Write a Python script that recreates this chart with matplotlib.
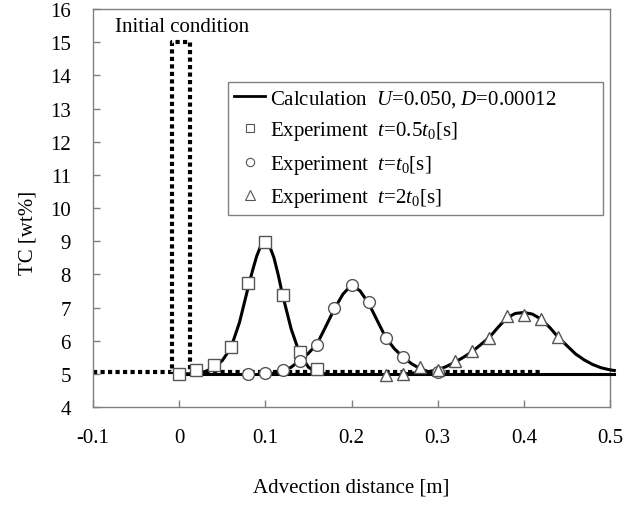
import matplotlib
matplotlib.use("Agg")
import matplotlib.pyplot as plt
from matplotlib.lines import Line2D

plt.rcParams['font.family'] = ['Liberation Serif', 'DejaVu Serif']
plt.rcParams['mathtext.fontset'] = 'custom'
plt.rcParams['mathtext.rm'] = 'Liberation Serif'
plt.rcParams['mathtext.it'] = 'Liberation Serif:italic'

# Initial condition (dotted outline)
init_x = [-0.1, -0.008, -0.008, 0.013, 0.013, 0.42]
init_y = [5.05, 5.05, 15.0, 15.0, 5.05, 5.05]

# Calculation curves
base_x = [0.0, 0.505]
base_y = [5.0, 5.0]
calc1_x = [0.0, 0.01, 0.02, 0.03, 0.04, 0.05, 0.06, 0.07, 0.08, 0.085, 0.09, 0.095,
           0.10, 0.105, 0.11, 0.115, 0.12, 0.13, 0.14, 0.15, 0.16, 0.17]
calc1_y = [5.0, 5.0, 5.02, 5.07, 5.18, 5.4, 5.78, 6.55, 7.6, 8.1, 8.55, 8.88,
           8.98, 8.85, 8.5, 7.98, 7.38, 6.35, 5.6, 5.2, 5.04, 5.0]
calc2_x = [0.10, 0.11, 0.12, 0.13, 0.14, 0.15, 0.16, 0.17, 0.18, 0.19, 0.20, 0.21,
           0.22, 0.23, 0.24, 0.25, 0.26, 0.27, 0.28, 0.29, 0.30]
calc2_y = [5.0, 5.02, 5.08, 5.2, 5.4, 5.62, 5.9, 6.42, 6.95, 7.4, 7.68, 7.5,
           7.12, 6.6, 6.08, 5.75, 5.5, 5.3, 5.15, 5.06, 5.02]
calc3_x = [0.26, 0.27, 0.28, 0.29, 0.30, 0.31, 0.32, 0.33, 0.34, 0.35, 0.36, 0.37,
           0.38, 0.39, 0.40, 0.41, 0.42, 0.43, 0.44, 0.45, 0.46, 0.47, 0.48, 0.49,
           0.50, 0.505]
calc3_y = [5.0, 5.02, 5.04, 5.07, 5.12, 5.22, 5.35, 5.5, 5.67, 5.88, 6.1, 6.4,
           6.68, 6.82, 6.85, 6.8, 6.65, 6.4, 6.1, 5.85, 5.6, 5.42, 5.28, 5.18,
           5.12, 5.1]

# Experiments
sq_x = [0.0, 0.02, 0.04, 0.06, 0.08, 0.10, 0.12, 0.14, 0.16]
sq_y = [5.0, 5.13, 5.27, 5.82, 7.74, 8.98, 7.38, 5.66, 5.15]
ci_x = [0.08, 0.10, 0.12, 0.14, 0.16, 0.18, 0.20, 0.22, 0.24, 0.26, 0.30]
ci_y = [5.0, 5.03, 5.13, 5.4, 5.87, 6.99, 7.68, 7.16, 6.07, 5.52, 5.05]
tr_x = [0.24, 0.26, 0.28, 0.30, 0.32, 0.34, 0.36, 0.38, 0.40, 0.42, 0.44]
tr_y = [4.97, 5.0, 5.22, 5.12, 5.4, 5.68, 6.08, 6.74, 6.78, 6.65, 6.1]

xticks = [-0.1, 0, 0.1, 0.2, 0.3, 0.4, 0.5]
xtick_labels = ['-0.1', '0', '0.1', '0.2', '0.3', '0.4', '0.5']
yticks = list(range(4, 17))

labels = ['Calculation  $U$=0.050, $D$=0.00012',
          'Experiment  $t$=0.5$t_{\\mathit{0}}$[s]',
          'Experiment  $t$=$t_{\\mathit{0}}$[s]',
          'Experiment  $t$=2$t_{\\mathit{0}}$[s]']

fig = plt.figure(figsize=(6.39, 5.06), dpi=100)
ax = fig.add_axes([93/639, 1-408/506, 517/639, 398/506])

ax.plot(init_x, init_y, color='black', lw=3, dashes=(1.0, 0.8),
        dash_capstyle='butt', solid_joinstyle='miter', zorder=2)
for cx, cy in [(base_x, base_y), (calc1_x, calc1_y), (calc2_x, calc2_y), (calc3_x, calc3_y)]:
    ax.plot(cx, cy, color='black', lw=2.2, zorder=3, clip_on=False)

mk = dict(linestyle='none', mfc='white', mec='#555555', mew=1.0, zorder=4, clip_on=False)
ax.plot(sq_x, sq_y, marker='s', ms=8, **mk)
ax.plot(ci_x, ci_y, marker='o', ms=8.5, **mk)
ax.plot(tr_x, tr_y, marker='^', ms=9, **mk)

ax.set_xlim(-0.1, 0.5)
ax.set_ylim(4, 16)
ax.set_xticks(xticks)
ax.set_xticklabels(xtick_labels)
ax.set_yticks(yticks)
ax.tick_params(axis='both', direction='in', colors='#808080', labelcolor='black',
               labelsize=15, length=5, width=1)
ax.tick_params(axis='x', pad=15)
ax.tick_params(axis='y', pad=16)
for s in ax.spines.values():
    s.set_color('#808080')
    s.set_linewidth(1)

ax.set_xlabel('Advection distance [m]', fontsize=15, labelpad=22)
ax.set_ylabel('TC [wt%]', fontsize=15)
ax.yaxis.set_label_coords(-0.108, 0.44)

ax.text(0.043, 0.955, 'Initial condition', transform=ax.transAxes, fontsize=15,
        ha='left', va='center')

handles = [Line2D([], [], color='black', lw=2),
           Line2D([], [], marker='s', ms=6, linestyle='none', mfc='white', mec='#555555', mew=0.8),
           Line2D([], [], marker='o', ms=6, linestyle='none', mfc='white', mec='#555555', mew=0.8),
           Line2D([], [], marker='^', ms=6.5, linestyle='none', mfc='white', mec='#555555', mew=0.8)]
leg = ax.legend(handles, labels, loc='upper left',
                bbox_to_anchor=(0.261, 0.49, 0.725, 0.327), mode='expand',
                borderaxespad=0, fontsize=15, frameon=True, fancybox=False,
                framealpha=1, edgecolor='#808080', handlelength=1.5,
                handletextpad=0.2, labelspacing=0.5, borderpad=0.3)
leg.get_frame().set_linewidth(1)

fig.savefig('out.png', dpi=100)
